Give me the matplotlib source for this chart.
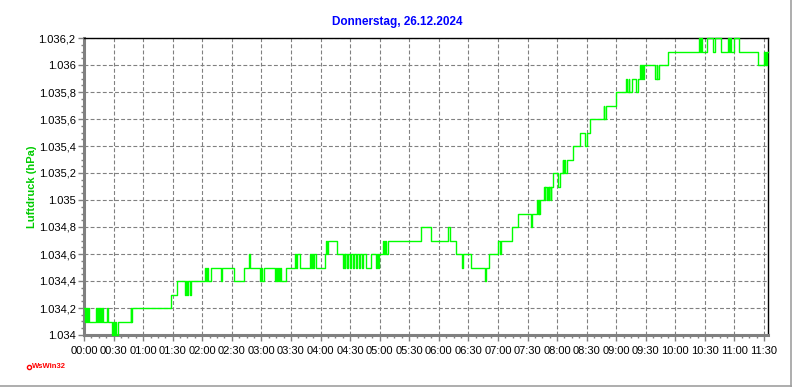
import matplotlib
matplotlib.use("Agg")
import matplotlib.pyplot as plt
from matplotlib.lines import Line2D
from matplotlib.ticker import FixedLocator, MultipleLocator, FuncFormatter

plt.rcParams['font.family'] = ['Liberation Sans', 'DejaVu Sans']

# Luftdruck, 26.12.2024 - Zeitpunkte (Minuten ab 00:00) an denen der Wert wechselt
minutes = [
    0, 1.2, 2.2, 3.2, 4.2, 5.0,
    12.5, 13.6, 14.4, 15.4, 16.2, 17.0, 18.6, 19.4, 23.0, 24.3,
    28.7, 29.6, 30.4, 31.2, 32.0, 34.8,
    47.3, 48.0, 49.0, 88.0, 94.0,
    102.0, 103.0, 104.8, 105.8, 107.8, 108.8,
    122.6, 123.6, 124.6, 125.6, 128.4, 138.5, 140.2,
    152.0, 162.8, 167.0, 168.0,
    178.4, 179.4, 180.2, 182.4,
    194.0, 194.8, 195.6, 196.4, 198.3, 199.2, 200.0, 204.7,
    214.5, 215.5, 216.3, 219.6,
    229.7, 230.5, 231.3, 232.2, 233.8, 235.5,
    244.6, 245.6, 246.4, 247.3, 256.8,
    262.5, 263.4, 264.4, 265.3, 267.0, 268.0, 270.3, 271.2, 272.6, 274.0,
    276.0, 277.0, 279.4, 280.4, 282.0, 283.0,
    286.5, 291.6, 296.6, 297.4, 298.2, 299.0,
    303.4, 304.2, 305.0, 306.0, 308.4,
    341.6, 351.7, 369.3, 371.0,
    377.7, 383.4, 384.4, 392.2,
    406.4, 408.1, 410.5, 420.0, 421.6, 423.3,
    434.0, 440.8, 453.4, 454.7,
    459.5, 460.3, 461.2, 461.8, 462.4,
    466.3, 467.4, 468.2, 469.4, 470.3, 471.5, 472.3, 473.4, 474.2,
    475.8, 480.5, 482.5,
    485.6, 486.5, 487.5, 488.5, 490.0,
    495.8, 503.6, 508.6, 510.3, 513.0,
    527.3, 528.1, 529.3, 539.8,
    550.3, 551.1, 552.5, 553.3, 556.1, 560.5, 561.9,
    564.6, 565.5, 566.3, 567.1, 568.0,
    579.8, 581.0, 581.8, 583.2,
    592.4, 623.9, 625.0, 625.8, 626.6, 632.4,
    638.5, 640.2, 646.6, 653.4, 654.5, 655.5, 656.3, 659.5, 664.6,
    683.9, 690.0, 690.8, 691.5, 692.3, 693.0, 694.0,
]
pressure = [
    1034.2, 1034.1, 1034.2, 1034.1, 1034.2, 1034.1,
    1034.2, 1034.1, 1034.2, 1034.1, 1034.2, 1034.1, 1034.2, 1034.1, 1034.2, 1034.1,
    1034.0, 1034.1, 1034.0, 1034.1, 1034.0, 1034.1,
    1034.2, 1034.1, 1034.2, 1034.3, 1034.4,
    1034.3, 1034.4, 1034.3, 1034.4, 1034.3, 1034.4,
    1034.5, 1034.4, 1034.5, 1034.4, 1034.5, 1034.4, 1034.5,
    1034.4, 1034.5, 1034.6, 1034.5,
    1034.4, 1034.5, 1034.4, 1034.5,
    1034.4, 1034.5, 1034.4, 1034.5, 1034.4, 1034.5, 1034.4, 1034.5,
    1034.6, 1034.5, 1034.6, 1034.5,
    1034.6, 1034.5, 1034.6, 1034.5, 1034.6, 1034.5,
    1034.6, 1034.7, 1034.6, 1034.7, 1034.6,
    1034.5, 1034.6, 1034.5, 1034.6, 1034.5, 1034.6, 1034.5, 1034.6, 1034.5, 1034.6,
    1034.5, 1034.6, 1034.5, 1034.6, 1034.5, 1034.6,
    1034.5, 1034.6, 1034.5, 1034.6, 1034.5, 1034.6,
    1034.7, 1034.6, 1034.7, 1034.6, 1034.7,
    1034.8, 1034.7, 1034.8, 1034.7,
    1034.6, 1034.5, 1034.6, 1034.5,
    1034.4, 1034.5, 1034.6, 1034.7, 1034.6, 1034.7,
    1034.8, 1034.9, 1034.8, 1034.9,
    1035.0, 1034.9, 1035.0, 1034.9, 1035.0,
    1035.1, 1035.0, 1035.1, 1035.0, 1035.1, 1035.0, 1035.1, 1035.0, 1035.1,
    1035.2, 1035.1, 1035.2,
    1035.3, 1035.2, 1035.3, 1035.2, 1035.3,
    1035.4, 1035.5, 1035.4, 1035.5, 1035.6,
    1035.7, 1035.6, 1035.7, 1035.8,
    1035.9, 1035.8, 1035.9, 1035.8, 1035.9, 1035.8, 1035.9,
    1036.0, 1035.9, 1036.0, 1035.9, 1036.0,
    1035.9, 1036.0, 1035.9, 1036.0,
    1036.1, 1036.2, 1036.1, 1036.2, 1036.1, 1036.2,
    1036.1, 1036.2, 1036.1, 1036.2, 1036.1, 1036.2, 1036.1, 1036.2, 1036.1,
    1036.0, 1036.1, 1036.0, 1036.1, 1036.0, 1036.1, 1036.1,
]

title = 'Donnerstag, 26.12.2024'
y_label = 'Luftdruck (hPa)'
x_ticks = list(range(0, 691, 30))
y_ticks = [1034.0, 1034.2, 1034.4, 1034.6, 1034.8, 1035.0,
           1035.2, 1035.4, 1035.6, 1035.8, 1036.0, 1036.2]

W, H = 792, 387
fig = plt.figure(figsize=(W / 100, H / 100), dpi=100)
ax = fig.add_axes([84 / W, 1 - 335 / H, (768 - 84) / W, (335 - 38) / H])

ax.plot(minutes, pressure, drawstyle='steps-post', color='#00ff00',
        linewidth=1.0, clip_on=False, zorder=3)

ax.set_xlim(0, 694)
ax.set_ylim(1034.0, 1036.2)

ax.xaxis.set_major_locator(FixedLocator(x_ticks))
ax.xaxis.set_minor_locator(MultipleLocator(7.5))
ax.xaxis.set_major_formatter(FuncFormatter(lambda v, p: f'{int(v) // 60:02d}:{int(v) % 60:02d}'))
ax.yaxis.set_major_locator(FixedLocator(y_ticks))
ax.yaxis.set_minor_locator(MultipleLocator(0.05))


def de_format(v, pos):
    s = f'{v:.1f}'
    whole, frac = s.split('.')
    whole = whole[0] + '.' + whole[1:]
    return whole if frac == '0' else whole + ',' + frac


ax.yaxis.set_major_formatter(FuncFormatter(de_format))

ax.grid(True, which='major', color='#808080', linestyle=(0, (3.5, 2)), linewidth=0.8)
ax.tick_params(which='major', direction='out', length=4, width=1, color='#808080',
               labelsize=8, labelcolor='black')
ax.tick_params(axis='x', which='major', pad=4)
ax.tick_params(axis='y', which='major', pad=2)
ax.tick_params(which='minor', direction='out', length=2, width=1, color='#808080')

for side in ('left', 'bottom'):
    ax.spines[side].set_color('#808080')
    ax.spines[side].set_linewidth(2.2)
for side in ('top', 'right'):
    ax.spines[side].set_color('black')
    ax.spines[side].set_linewidth(1.0)

fig.text(397 / W, 1 - 22 / H, title, color='#0000ff', fontsize=8.5, fontweight='bold',
         ha='center', va='center')
fig.text(32 / W, 1 - 187 / H, y_label, color='#00cc00', fontsize=8, fontweight='bold',
         rotation=90, ha='center', va='center')

# WsWin32 Kennung unten links
fig.add_artist(Line2D([29 / W], [1 - 366.5 / H], marker='o', markersize=3,
                      markerfacecolor='white', markeredgecolor='red',
                      markeredgewidth=1, transform=fig.transFigure))
fig.text(32 / W, 1 - 366.5 / H, 'WsWin32', color='red', fontsize=5.5,
         fontweight='bold', ha='left', va='center')

# grauer Fensterrahmen rechts/unten
fig.add_artist(Line2D([0, 1], [1.5 / H, 1.5 / H], color='#a0a0a0', linewidth=1.2,
                      transform=fig.transFigure))
fig.add_artist(Line2D([1 - 1.5 / W, 1 - 1.5 / W], [0, 1], color='#a0a0a0', linewidth=1.2,
                      transform=fig.transFigure))

plt.savefig('out.png', dpi=100)
plt.close()
